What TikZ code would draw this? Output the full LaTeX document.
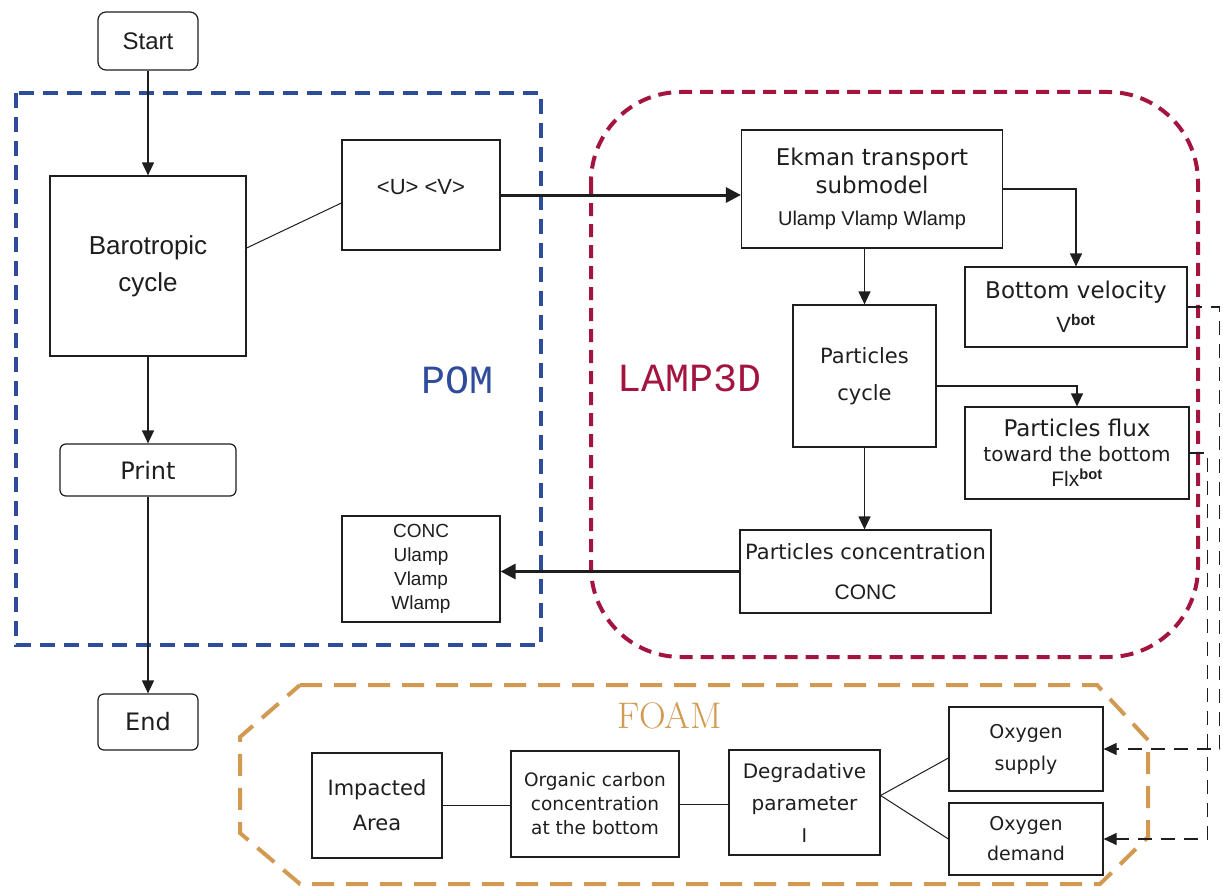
\documentclass[tikz,border=0pt]{standalone}
\usepackage{fontspec}
\newfontfamily\comic{DejaVu Sans}
\newfontfamily\arialf{Liberation Sans}
\newfontfamily\monof{Liberation Mono}
\usetikzlibrary{arrows.meta}
\definecolor{pomblue}{HTML}{2F4C9A}
\definecolor{lampred}{HTML}{A3143F}
\definecolor{foamtan}{HTML}{D29A50}
\definecolor{ink}{HTML}{1E1E1E}
\newcommand{\fsz}[2]{\fontsize{#1}{#2}\selectfont}
\tikzset{
  x=1pt, y=-1pt,
  bx/.style={draw=ink, line width=1.2pt, fill=white, inner sep=0pt, align=center, text=ink},
  conn/.style={draw=ink, line width=1.2pt, -{Triangle[length=13pt,width=12pt]}},
  thickconn/.style={draw=ink, line width=3pt, -{Triangle[length=15pt,width=15pt]}},
  plainconn/.style={draw=ink, line width=1pt},
  dconn/.style={draw=ink, line width=1.2pt, dash pattern=on 14pt off 9pt, -{Triangle[length=13pt,width=12pt]}},
  grp/.style={line width=4pt},
}
\begin{document}
\begin{tikzpicture}
\useasboundingbox (0,0) rectangle (1223,888);
\fill[white] (0,0) rectangle (1223,888);

% group outlines
\draw[grp, pomblue, dash pattern=on 15pt off 9pt] (16,93) rectangle (541,645);
\draw[grp, lampred, dash pattern=on 13pt off 8pt, rounded corners=90pt] (591,92) rectangle (1198,657);
\draw[grp, foamtan, dash pattern=on 22pt off 12pt] (300,685) -- (1097,685) -- (1148,740) -- (1148,837) -- (1100,884) -- (300,884) -- (240,833) -- (240,737) -- cycle;

% group labels
\node[text=pomblue, font={\monof\fsz{40}{40}}] (pomlbl) at (457,380) {POM};
\node[text=lampred, font={\monof\fsz{40}{40}}] (lamplbl) at (690,378) {LAMP3D};
\node[text=foamtan, font={\fsz{37}{37}}] (foamlbl) at (670,716) {FOAM};

% POM side
\node[bx, rounded corners=8pt, minimum width=100pt, minimum height=58pt, font={\arialf\fsz{24}{28}}] (start) at (148,41) {Start};
\node[bx, minimum width=196pt, minimum height=180pt, font={\arialf\fsz{26}{37}}] (baro) at (148,266) {Barotropic\\cycle};
\node[bx, minimum width=158pt, minimum height=110pt, text depth=17pt, font={\arialf\fsz{22}{26}}] (uv) at (421,195) {<U> <V>};
\node[bx, rounded corners=6pt, minimum width=176pt, minimum height=52pt, font={\comic\fsz{24}{28}}] (print) at (148,470) {Print};
\node[bx, rounded corners=6pt, minimum width=100pt, minimum height=56pt, font={\comic\fsz{24}{28}}] (end) at (148,722) {End};
\node[bx, minimum width=158pt, minimum height=106pt, font={\arialf\fsz{19}{24}}] (conc) at (421,569) {CONC\\Ulamp\\Vlamp\\Wlamp};

% LAMP3D side
\node[bx, minimum width=261pt, minimum height=118pt, font={\comic\fsz{23}{28}}] (ekman) at (872,189)
  {Ekman transport\\submodel\\[4pt]{\arialf\fsz{20}{24}Ulamp Vlamp Wlamp}};
\node[bx, minimum width=222pt, minimum height=80pt, font={\comic\fsz{23}{34}}] (bvel) at (1076,307)
  {Bottom velocity\\{\arialf\fsz{22}{26}V\textsuperscript{\bfseries bot}}};
\node[bx, minimum width=143pt, minimum height=142pt, font={\comic\fsz{21}{37}}] (pcyc) at (864.5,376) {Particles\\cycle};
\node[bx, minimum width=224pt, minimum height=92pt, font={\comic\fsz{20}{25}}] (flux) at (1077,453)
  {{\fsz{23}{26}Particles flux}\\toward the bottom\\{\arialf\fsz{21}{25}Flx\textsuperscript{\bfseries bot}}};
\node[bx, minimum width=251pt, minimum height=83pt, font={\comic\fsz{21}{40}}] (pconc) at (865.5,571.5)
  {Particles concentration\\{\arialf\fsz{21}{40}CONC}};

% FOAM side
\node[bx, minimum width=130pt, minimum height=105pt, font={\comic\fsz{21}{35}}] (imp) at (377,805.5) {Impacted\\Area};
\node[bx, minimum width=168pt, minimum height=106pt, font={\comic\fsz{18.5}{24}}] (org) at (595,804) {Organic carbon\\concentration\\at the bottom};
\node[bx, minimum width=151pt, minimum height=105pt, font={\comic\fsz{20}{32}}] (deg) at (804.5,802.5) {Degradative\\parameter\\{\arialf I}};
\node[bx, minimum width=154pt, minimum height=84pt, font={\comic\fsz{19}{32}}] (sup) at (1026,749) {Oxygen\\supply};
\node[bx, minimum width=154pt, minimum height=72pt, font={\comic\fsz{19}{30}}] (dem) at (1026,839) {Oxygen\\demand};

% connectors
\draw[conn] (start.south) -- (baro.north);
\draw[conn] (baro.south) -- (print.north);
\draw[conn] (print.south) -- (end.north);
\draw[plainconn] ([yshift=18pt]baro.east) -- ([yshift=-8pt]uv.west);
\draw[thickconn] (uv.east) -- (uv.east -| ekman.west);
\draw[conn] (ekman.east) -| (bvel.north);
\draw[conn] (ekman.south -| pcyc.north) -- (pcyc.north);
\draw[conn] ([yshift=-10pt]pcyc.east) -| (flux.north);
\draw[conn] (pcyc.south) -- (pcyc.south |- pconc.north);
\draw[thickconn] (pconc.west) -- (pconc.west -| conc.east);
\draw[plainconn] (imp.east) -- (imp.east -| org.west);
\draw[plainconn] (org.east) -- (org.east -| deg.west);
\draw[plainconn] ([yshift=7pt]deg.east) -- ([yshift=-9pt]sup.west);
\draw[plainconn] ([yshift=7pt]deg.east) -- (dem.west);
\draw[dconn] (bvel.east) -- ++(32,0) |- (sup.east);
\draw[dconn] (flux.east) -- ++(18,0) |- (dem.east);
\end{tikzpicture}
\end{document}
